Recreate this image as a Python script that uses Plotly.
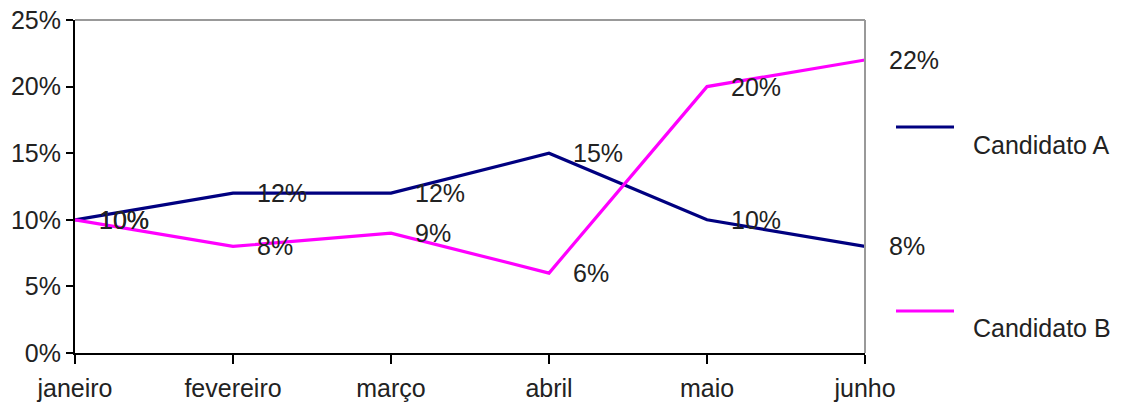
import plotly.graph_objects as go

# Data
meses = ["janeiro", "fevereiro", "março", "abril", "maio", "junho"]
candidato_a = [0.10, 0.12, 0.12, 0.15, 0.10, 0.08]
candidato_b = [0.10, 0.08, 0.09, 0.06, 0.20, 0.22]
y_ticks = [0, 0.05, 0.10, 0.15, 0.20, 0.25]

FONT = "Liberation Sans, Arial, sans-serif"
FS = 25
cor_a = "#000080"
cor_b = "#FF00FF"

fig = go.Figure()
fig.add_trace(go.Scatter(x=meses, y=candidato_a, mode="lines", name="Candidato A",
                         line=dict(color=cor_a, width=3.2)))
fig.add_trace(go.Scatter(x=meses, y=candidato_b, mode="lines", name="Candidato B",
                         line=dict(color=cor_b, width=3.2)))

# data labels, right of each point
for serie in (candidato_a, candidato_b):
    for m, v in zip(meses, serie):
        fig.add_annotation(x=m, y=v, xref="x", yref="y", text=f"{v*100:.0f}%",
                           showarrow=False, xanchor="left", yanchor="middle", xshift=22,
                           font=dict(family=FONT, size=FS, color="#222"))

# gray border on top and right of plot area
fig.add_shape(type="line", xref="paper", yref="paper", x0=0, x1=1, y0=1, y1=1,
              line=dict(color="#999", width=2))
fig.add_shape(type="line", xref="paper", yref="paper", x0=1, x1=1, y0=0, y1=1,
              line=dict(color="#999", width=2))

# hand-made legend to the right (line above, label below-right)
for nome, cor, ly, ty in (("Candidato A", cor_a, 127, 145), ("Candidato B", cor_b, 311, 328)):
    fig.add_shape(type="line", xref="paper", yref="paper",
                  x0=(896 - 75) / 790, x1=(954 - 75) / 790,
                  y0=(353 - ly) / 333, y1=(353 - ly) / 333,
                  line=dict(color=cor, width=3.2))
    fig.add_annotation(xref="paper", yref="paper", x=(971 - 75) / 790, y=(353 - ty) / 333,
                       text=nome, showarrow=False, xanchor="left", yanchor="middle",
                       font=dict(family=FONT, size=FS, color="#222"))

fig.update_layout(
    width=1124, height=405,
    margin=dict(l=75, r=259, t=20, b=52, autoexpand=False),
    paper_bgcolor="white", plot_bgcolor="white",
    showlegend=False,
    font=dict(family=FONT, size=FS, color="#222"),
)
fig.update_xaxes(
    range=[0, 5], showgrid=False, zeroline=False, automargin=False,
    showline=True, linecolor="black", linewidth=2,
    ticks="outside", ticklen=9, tickwidth=2, tickcolor="black",
    ticklabelstandoff=3,
    tickfont=dict(family=FONT, size=FS, color="#222"),
)
fig.update_yaxes(
    range=[0, 0.25], tickvals=y_ticks, tickformat=".0%",
    showgrid=False, zeroline=False, automargin=False,
    showline=True, linecolor="black", linewidth=2,
    ticks="outside", ticklen=7, tickwidth=2, tickcolor="black",
    tickfont=dict(family=FONT, size=FS, color="#222"),
)

# page body has a default 8px margin; remove it so the figure sits at 0,0
fig.write_html("out.html", config={"displayModeBar": False},
               post_script="document.body.style.margin='0';")
